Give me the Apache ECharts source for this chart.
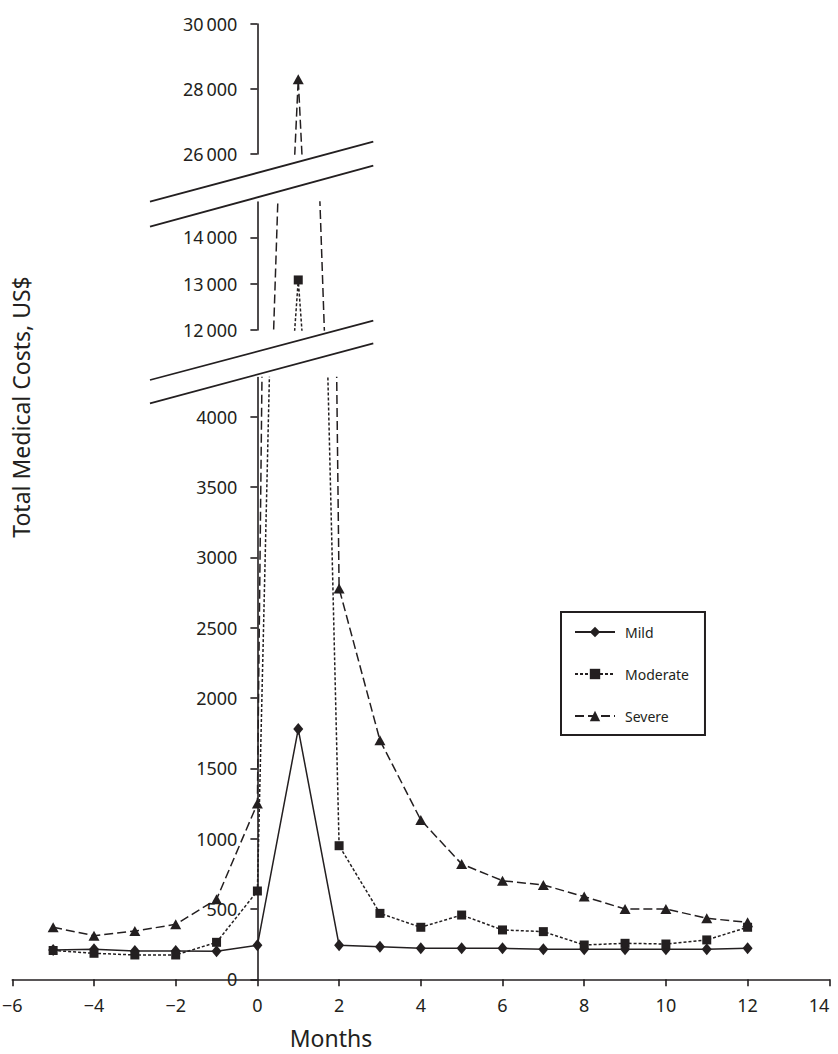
<!DOCTYPE html>
<html>
<head>
<meta charset="utf-8">
<script src="https://cdn.jsdelivr.net/npm/echarts@6/dist/echarts.min.js"></script>
<style>
html,body{margin:0;padding:0;background:#ffffff;}
#chart{width:838px;height:1054px;}
</style>
</head>
<body>
<div id="chart"></div>
<script>
// ---- data ----
const months   = [-5, -4, -3, -2, -1, 0, 1, 2, 3, 4, 5, 6, 7, 8, 9, 10, 11, 12];
const mild     = [208, 213, 201, 201, 200, 242, 1780, 242, 232, 220, 220, 220, 213, 213, 213, 213, 213, 220];
const moderate = [205, 185, 173, 173, 263, 628, 13080, 950, 469, 370, 457, 351, 339, 244, 256, 251, 280, 370];
const severe   = [370, 310, 343, 391, 569, 1250, 28300, 2780, 1700, 1133, 820, 701, 671, 588, 500, 500, 434, 405];
const seriesNames = ['Mild', 'Moderate', 'Severe'];

// tick values
const xTicks      = [-6, -4, -2, 0, 2, 4, 6, 8, 10, 12, 14];
const bottomTicks = [0, 500, 1000, 1500, 2000, 2500, 3000, 3500, 4000];
const midTicks    = [12000, 13000, 14000];
const topTicks    = [26000, 28000, 30000];

const yTitle = 'Total Medical Costs, US$';
const xTitle = 'Months';

// ---- style / layout ----
const INK = '#231f20';
const FONT = '"Noto Sans", "Open Sans", sans-serif';
const xMin = -6, xMax = 14;
const plotLeft = 12.3, plotWidth = 817;
// the value axes stand at month 0: shift them in from the grid's left edge
const yAxisOffset = -((0 - xMin) / (xMax - xMin)) * plotWidth;
const panels = [
  { top: 24,    height: 130,   min: 26000, max: 30000, interval: 2000, ticks: topTicks },
  { top: 202.1, height: 127.9, min: 12000, max: 14760, interval: 1000, ticks: midTicks },
  { top: 377.5, height: 601.8, min: 0,     max: 4280,  interval: 500,  ticks: bottomTicks }
];
const seriesValues = [mild, moderate, severe];
const seriesLook = [
  { symbol: 'diamond',  size: [10, 12], type: 'solid'  },
  { symbol: 'rect',     size: [9, 9],   type: [3, 2]   },
  { symbol: 'triangle', size: [11, 10], type: [9, 4]   }
];

function fmtY(v) {
  const s = String(v);
  return v >= 10000 ? s.slice(0, s.length - 3) + '\u2009' + s.slice(-3) : s;
}
function fmtX(v) {
  return v < 0 ? '\u2212' + Math.abs(v) : String(v);
}

const grid = [], xAxis = [], yAxis = [], series = [];
panels.forEach((p, pi) => {
  const isBottom = pi === panels.length - 1;
  grid.push({ left: plotLeft, width: plotWidth, top: p.top, height: p.height,
              containLabel: false, outerBoundsMode: 'none' });
  xAxis.push({
    type: 'value', gridIndex: pi, min: xMin, max: xMax, interval: 2, show: isBottom,
    axisLine: { show: true, onZero: false, lineStyle: { color: INK, width: 1.6 } },
    axisTick: { show: true, length: 7, inside: false, lineStyle: { color: INK, width: 1.6 }, customValues: xTicks },
    axisLabel: { show: true, margin: 17, color: INK, fontSize: 18, fontFamily: FONT, formatter: fmtX,
                 customValues: xTicks, alignMaxLabel: 'right' },
    splitLine: { show: false }
  });
  yAxis.push({
    type: 'value', gridIndex: pi, min: p.min, max: p.max, interval: p.interval,
    position: 'left', offset: yAxisOffset,
    axisLine: { show: true, onZero: false, lineStyle: { color: INK, width: 1.6 } },
    axisTick: { show: true, length: 7, inside: false, lineStyle: { color: INK, width: 1.6 }, customValues: p.ticks },
    axisLabel: { show: true, margin: 20, color: INK, fontSize: 18, fontFamily: FONT, formatter: fmtY, customValues: p.ticks },
    splitLine: { show: false }
  });
  seriesValues.forEach((vals, si) => {
    const look = seriesLook[si];
    series.push({
      name: seriesNames[si],
      type: 'line',
      xAxisIndex: pi, yAxisIndex: pi,
      data: months.map((m, i) => [m, vals[i]]),
      symbol: look.symbol,
      symbolSize: look.size,
      showAllSymbol: true,
      clip: true,
      lineStyle: { color: INK, width: 1.5, type: look.type },
      itemStyle: { color: INK, borderWidth: 0 },
      emphasis: { disabled: true },
      z: 3 + si
    });
  });
});

// axis-break marks (two pairs of slanted parallel lines)
function breakLine(x1, y1, x2, y2) {
  return { type: 'line', z: 100, shape: { x1, y1, x2, y2 }, style: { stroke: INK, lineWidth: 1.8 } };
}

const option = {
  animation: false,
  backgroundColor: '#ffffff',
  grid, xAxis, yAxis, series,
  legend: {
    data: seriesNames,
    orient: 'vertical',
    left: 561, top: 612,
    padding: [13, 16, 12, 13],
    itemWidth: 40, itemHeight: 13, itemGap: 28,
    borderColor: INK, borderWidth: 2,
    selectedMode: false,
    textStyle: { color: INK, fontSize: 14, fontFamily: FONT, padding: [0, 0, 0, 5] }
  },
  graphic: [
    breakLine(150, 201.7, 373.3, 141.7),
    breakLine(150, 226.7, 373.3, 165.7),
    breakLine(150, 380, 373.3, 320.7),
    breakLine(150, 403.3, 373.3, 343.3),
    { type: 'text', x: 21, y: 407, rotation: Math.PI / 2,
      style: { text: yTitle, fill: INK, font: '23px ' + FONT, align: 'center', verticalAlign: 'middle' } },
    { type: 'text', x: 331, y: 1038,
      style: { text: xTitle, fill: INK, font: '23px ' + FONT, lineHeight: 20, align: 'center', verticalAlign: 'middle' } }
  ]
};

const chart = echarts.init(document.getElementById('chart'), null, { renderer: 'svg' });
chart.setOption(option);
</script>
</body>
</html>
